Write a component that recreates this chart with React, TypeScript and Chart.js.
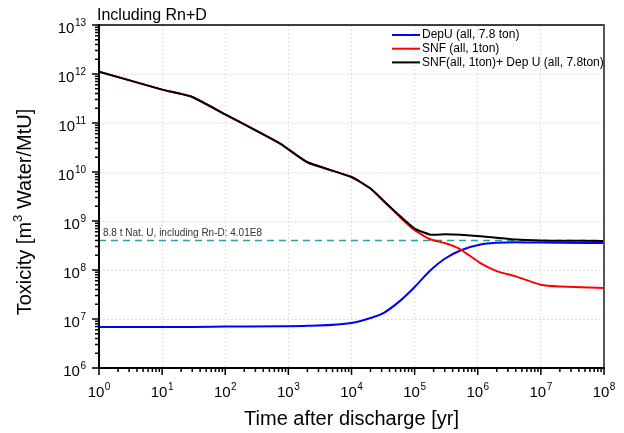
import React, { useEffect, useRef } from 'react';
import { Chart, registerables } from 'chart.js';

Chart.register(...registerables);

// ---------- data ----------
const TIMES = [1, 10, 30, 100, 740, 2e3, 1e4, 2e4, 3.2e4, 6e4, 1e5, 1.8e5, 3e5, 5.3e5, 1.1e6, 2e6, 4e6, 1e7, 2e7, 1e8];
const DEPU = [6.9e6, 6.9e6, 6.9e6, 7.0e6, 7.1e6, 7.25e6, 8.3e6, 1.05e7, 1.32e7, 2.4e7, 4.5e7, 1.0e8, 1.7e8, 2.5e8, 3.3e8, 3.6e8, 3.7e8, 3.63e8, 3.6e8, 3.55e8];
const SNF = [1.12e12, 4.8e11, 3.4e11, 1.5e11, 3.8e10, 1.58e10, 7.9e9, 4.6e9, 2.6e9, 1.17e9, 6.5e8, 4.2e8, 3.55e8, 2.65e8, 1.38e8, 9.5e7, 7.4e7, 5.0e7, 4.6e7, 4.3e7];
const TOTAL = [1.12e12, 4.8e11, 3.4e11, 1.5e11, 3.8e10, 1.58e10, 7.9e9, 4.6e9, 2.6e9, 1.23e9, 7.0e8, 5.25e8, 5.35e8, 5.25e8, 4.9e8, 4.57e8, 4.17e8, 3.98e8, 3.96e8, 3.9e8];
const NAT_U_REF = 4.01e8;
const NAT_U_LABEL = '8.8 t Nat. U, including Rn-D: 4.01E8';
const SERIES_LABELS = ['DepU (all, 7.8 ton)', 'SNF (all, 1ton)', 'SNF(all, 1ton)+ Dep U (all, 7.8ton)'];
const SERIES_COLORS = ['#0000ff', '#ff0000', '#000000'];
const X_DECADES = [0, 1, 2, 3, 4, 5, 6, 7, 8];
const Y_DECADES = [6, 7, 8, 9, 10, 11, 12, 13];
const TITLE = 'Including Rn+D';
const X_TITLE = 'Time after discharge [yr]';
const Y_TITLE_PRE = 'Toxicity [m';
const Y_TITLE_SUP = '3';
const Y_TITLE_POST = ' Water/MtU]';

const FONT = '"Liberation Sans", Arial, sans-serif';

function drawPow(ctx: CanvasRenderingContext2D, exp: string, x: number, baseY: number, align: 'center' | 'right') {
  ctx.font = `15px ${FONT}`;
  const wb = ctx.measureText('10').width;
  ctx.font = `10px ${FONT}`;
  const we = ctx.measureText(exp).width;
  const total = wb + we + 0.5;
  const start = align === 'center' ? x - total / 2 : x - total;
  ctx.textAlign = 'left';
  ctx.textBaseline = 'alphabetic';
  ctx.font = `15px ${FONT}`;
  ctx.fillText('10', start, baseY);
  ctx.font = `10px ${FONT}`;
  ctx.fillText(exp, start + wb + 0.5, baseY - 7.5);
}

const framePlugin = {
  id: 'frame',
  afterDraw(chart: any) {
    const { ctx, chartArea: a, scales } = chart;
    const x = scales.x;
    const y = scales.y;
    ctx.save();
    // frame
    ctx.lineCap = 'square';
    ctx.strokeStyle = '#000';
    ctx.lineWidth = 1.5;
    ctx.beginPath();
    ctx.moveTo(a.left, a.top);
    ctx.lineTo(a.right, a.top);
    ctx.stroke();
    ctx.strokeStyle = '#555';
    ctx.lineWidth = 2;
    ctx.beginPath();
    ctx.moveTo(a.right, a.top);
    ctx.lineTo(a.right, a.bottom);
    ctx.stroke();
    ctx.strokeStyle = '#000';
    ctx.lineWidth = 2;
    ctx.beginPath();
    ctx.moveTo(a.left, a.top);
    ctx.lineTo(a.left, a.bottom);
    ctx.lineTo(a.right, a.bottom);
    ctx.stroke();

    // ticks
    ctx.lineCap = 'butt';
    ctx.lineWidth = 1.5;
    ctx.beginPath();
    X_DECADES.forEach((d, i) => {
      const px = x.getPixelForValue(Math.pow(10, d));
      ctx.moveTo(px, a.bottom);
      ctx.lineTo(px, a.bottom + 7);
      if (i < X_DECADES.length - 1) {
        for (let m = 2; m <= 9; m++) {
          const mx = x.getPixelForValue(m * Math.pow(10, d));
          ctx.moveTo(mx, a.bottom);
          ctx.lineTo(mx, a.bottom + 4);
        }
      }
    });
    Y_DECADES.forEach((d, i) => {
      const py = y.getPixelForValue(Math.pow(10, d));
      ctx.moveTo(a.left, py);
      ctx.lineTo(a.left - 7, py);
      if (i < Y_DECADES.length - 1) {
        for (let m = 2; m <= 9; m++) {
          const my = y.getPixelForValue(m * Math.pow(10, d));
          ctx.moveTo(a.left, my);
          ctx.lineTo(a.left - 4, my);
        }
      }
    });
    ctx.stroke();

    // tick labels
    ctx.fillStyle = '#000';
    X_DECADES.forEach((d) => {
      const px = x.getPixelForValue(Math.pow(10, d));
      drawPow(ctx, String(d), px, a.bottom + 29, 'center');
    });
    Y_DECADES.forEach((d) => {
      const py = y.getPixelForValue(Math.pow(10, d));
      drawPow(ctx, String(d), a.left - 13, py + 8, 'right');
    });

    // titles
    ctx.font = `16px ${FONT}`;
    ctx.textAlign = 'left';
    ctx.textBaseline = 'alphabetic';
    ctx.fillText(TITLE, a.left - 2, 19.5);

    ctx.font = `20px ${FONT}`;
    ctx.textAlign = 'center';
    ctx.fillText(X_TITLE, (a.left + a.right) / 2, 425);

    // y title (rotated)
    ctx.save();
    ctx.translate(31, 212);
    ctx.rotate(-Math.PI / 2);
    ctx.font = `20px ${FONT}`;
    const w1 = ctx.measureText(Y_TITLE_PRE).width;
    const w3 = ctx.measureText(Y_TITLE_POST).width;
    ctx.font = `13px ${FONT}`;
    const w2 = ctx.measureText(Y_TITLE_SUP).width;
    let sx = -(w1 + w2 + w3) / 2;
    ctx.textAlign = 'left';
    ctx.font = `20px ${FONT}`;
    ctx.fillText(Y_TITLE_PRE, sx, 0);
    sx += w1;
    ctx.font = `13px ${FONT}`;
    ctx.fillText(Y_TITLE_SUP, sx, -9);
    sx += w2;
    ctx.font = `20px ${FONT}`;
    ctx.fillText(Y_TITLE_POST, sx, 0);
    ctx.restore();

    // reference label
    ctx.font = `10px ${FONT}`;
    ctx.fillStyle = '#333';
    ctx.textAlign = 'left';
    ctx.fillText(NAT_U_LABEL, a.left + 4, y.getPixelForValue(NAT_U_REF) - 4.5);

    // legend
    ctx.font = `12px ${FONT}`;
    ctx.fillStyle = '#000';
    ctx.textBaseline = 'middle';
    SERIES_LABELS.forEach((lab, i) => {
      const ly = 35 + i * 13.7;
      ctx.strokeStyle = SERIES_COLORS[i];
      ctx.lineWidth = 2;
      ctx.beginPath();
      ctx.moveTo(392, ly);
      ctx.lineTo(420, ly);
      ctx.stroke();
      ctx.fillText(lab, 422, ly);
    });

    ctx.restore();
  },
};

export default function App() {
  const ref = useRef<HTMLCanvasElement | null>(null);
  useEffect(() => {
    if (!ref.current) return;
    const mk = (vals: number[]) => TIMES.map((t, i) => ({ x: t, y: vals[i] }));
    const chart = new Chart(ref.current, {
      type: 'line',
      data: {
        datasets: [
          {
            label: 'ref',
            data: [
              { x: TIMES[0], y: NAT_U_REF },
              { x: TIMES[TIMES.length - 1], y: NAT_U_REF },
            ],
            borderColor: '#1fa5a5',
            borderWidth: 1.5,
            borderDash: [7, 5],
            pointRadius: 0,
            order: 4,
          },
          {
            label: SERIES_LABELS[0],
            data: mk(DEPU),
            borderColor: SERIES_COLORS[0],
            borderWidth: 2,
            pointRadius: 0,
            cubicInterpolationMode: 'monotone',
            order: 3,
          },
          {
            label: SERIES_LABELS[1],
            data: mk(SNF),
            borderColor: SERIES_COLORS[1],
            borderWidth: 2,
            pointRadius: 0,
            tension: 0.15,
            order: 2,
          },
          {
            label: SERIES_LABELS[2],
            data: mk(TOTAL),
            borderColor: SERIES_COLORS[2],
            borderWidth: 2,
            pointRadius: 0,
            tension: 0.15,
            order: 1,
          },
        ],
      },
      options: {
        responsive: false,
        animation: false,
        layout: { padding: { left: 99, top: 25, right: 20, bottom: 65 } },
        plugins: { legend: { display: false }, tooltip: { enabled: false }, title: { display: false } },
        scales: {
          x: {
            type: 'logarithmic',
            min: 1,
            max: 1e8,
            ticks: { display: false },
            grid: { color: '#d4d4d4', lineWidth: 1, drawTicks: false },
            border: { display: false, dash: [1.5, 2.5] },
            afterBuildTicks: (s: any) => {
              s.ticks = X_DECADES.map((d) => ({ value: Math.pow(10, d) }));
            },
          },
          y: {
            type: 'logarithmic',
            min: 1e6,
            max: 1e13,
            ticks: { display: false },
            grid: { color: '#d4d4d4', lineWidth: 1, drawTicks: false },
            border: { display: false, dash: [1.5, 2.5] },
            afterBuildTicks: (s: any) => {
              s.ticks = Y_DECADES.map((d) => ({ value: Math.pow(10, d) }));
            },
          },
        },
      },
      plugins: [framePlugin],
    });
    return () => chart.destroy();
  }, []);
  return (
    <div style={{ position: 'absolute', left: 0, top: 0, width: 624, height: 433, background: '#fff' }}>
      <canvas ref={ref} width={624} height={433} style={{ display: 'block' }} />
    </div>
  );
}
